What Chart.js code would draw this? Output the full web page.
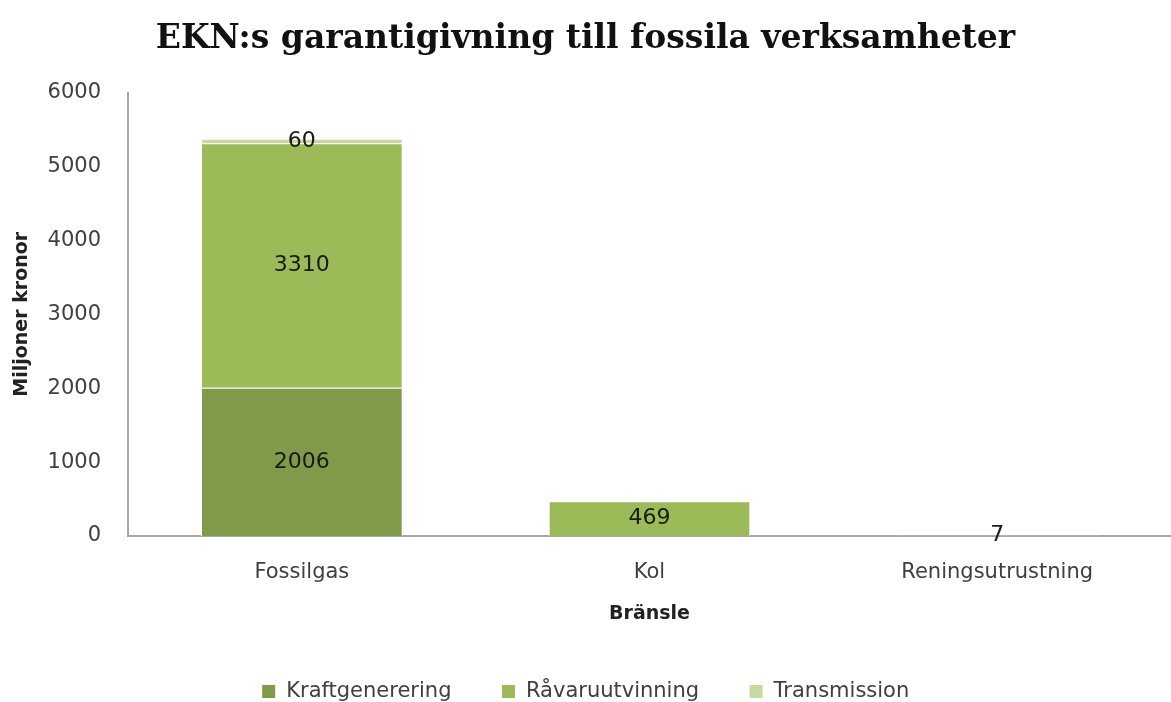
<!DOCTYPE html>
<html>
<head>
<meta charset="utf-8" />
<title>EKN:s garantigivning till fossila verksamheter</title>
<script src="https://cdn.jsdelivr.net/npm/chart.js"></script>
<style>
  html, body { margin: 0; padding: 0; background: #fff; }
</style>
</head>
<body>
<canvas id="ekn" width="1171" height="702"></canvas>
<script>
// categories and series (miljoner kronor)
const categories = ['Fossilgas', 'Kol', 'Reningsutrustning'];
const kraftgenerering = [2006, 0, 0];
const ravaruutvinning = [3310, 469, 7];
const transmission = [60, 0, 0];
const yTicks = [0, 1000, 2000, 3000, 4000, 5000, 6000];

// draws the value in the middle of each bar segment
const segmentLabels = {
  id: 'segmentLabels',
  afterDatasetsDraw(chart) {
    const ctx = chart.ctx;
    ctx.save();
    ctx.font = '22px "DejaVu Sans"';
    ctx.fillStyle = '#1a1a1a';
    ctx.textAlign = 'center';
    ctx.textBaseline = 'middle';
    chart.data.datasets.forEach((ds, i) => {
      const meta = chart.getDatasetMeta(i);
      meta.data.forEach((bar, j) => {
        const v = ds.data[j];
        if (!v) return;
        ctx.fillText(String(v), bar.x, (bar.y + bar.base) / 2);
      });
    });
    ctx.restore();
  }
};

new Chart(document.getElementById('ekn'), {
  type: 'bar',
  data: {
    labels: categories,
    datasets: [
      { label: 'Kraftgenerering', data: kraftgenerering, backgroundColor: '#7F9A48', borderColor: '#ffffff', borderWidth: 1 },
      { label: 'Råvaruutvinning', data: ravaruutvinning, backgroundColor: '#9BBB59', borderColor: '#ffffff', borderWidth: 1 },
      { label: 'Transmission', data: transmission, backgroundColor: '#C5D9A0', borderColor: '#ffffff', borderWidth: 1 }
    ]
  },
  options: {
    responsive: false,
    animation: false,
    categoryPercentage: 1,
    barPercentage: 0.58,
    layout: { padding: { left: 0, right: 0, top: 0, bottom: -10 } },
    plugins: {
      title: {
        display: true,
        text: 'EKN:s garantigivning till fossila verksamheter',
        font: { family: '"DejaVu Serif"', size: 33, weight: 'bold' },
        color: '#111',
        padding: { top: 20, bottom: 33 }
      },
      legend: {
        position: 'bottom',
        labels: {
          boxWidth: 14,
          boxHeight: 14,
          padding: 50,
          color: '#404040',
          font: { family: '"DejaVu Sans"', size: 21 }
        }
      },
      tooltip: { enabled: false }
    },
    scales: {
      x: {
        stacked: true,
        grid: { display: false },
        border: { color: '#a6a6a6', width: 2 },
        ticks: { color: '#404040', font: { family: '"DejaVu Sans"', size: 21 }, padding: 16 },
        title: { display: true, text: 'Bränsle', color: '#222', font: { family: '"DejaVu Sans"', size: 19, weight: 'bold' }, padding: { top: 1, bottom: 6 } }
      },
      y: {
        stacked: true,
        min: 0,
        max: 6000,
        grid: { display: false },
        border: { color: '#a6a6a6', width: 2 },
        afterBuildTicks: (scale) => { scale.ticks = yTicks.map(v => ({ value: v })); },
        afterFit: (scale) => { scale.width = 128; },
        ticks: { color: '#404040', font: { family: '"DejaVu Sans"', size: 21 }, padding: 19, callback: (v) => String(v) },
        title: { display: true, text: 'Miljoner kronor', color: '#222', font: { family: '"DejaVu Sans"', size: 19, weight: 'bold' }, padding: { top: 11, bottom: 0 } }
      }
    }
  },
  plugins: [segmentLabels]
});
</script>
</body>
</html>
